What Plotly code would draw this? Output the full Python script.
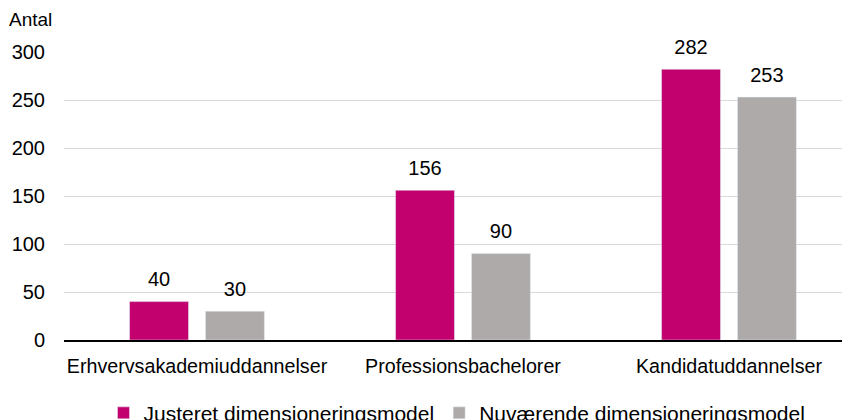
import plotly.graph_objects as go

categories = ["Erhvervsakademiuddannelser", "Professionsbachelorer", "Kandidatuddannelser"]
justeret = [40, 156, 282]
nuvaerende = [30, 90, 253]
series_names = ["Justeret dimensioneringsmodel", "Nuværende dimensioneringsmodel"]
colors = ["#C2006E", "#AEAAA9"]
y_ticks = [0, 50, 100, 150, 200, 250, 300]

FONT = "Liberation Sans, Arial, sans-serif"

fig = go.Figure()
for name, vals, col, grp in [(series_names[0], justeret, colors[0], "a"),
                             (series_names[1], nuvaerende, colors[1], "b")]:
    fig.add_trace(go.Bar(x=categories, y=vals, name=name, marker_color=col,
                         offsetgroup=grp, hoverinfo="skip"))
    # value labels, placed via an invisible marker so they sit a bit above the bars
    fig.add_trace(go.Scatter(x=categories, y=vals, mode="markers+text", text=vals,
                             textposition="top center", offsetgroup=grp,
                             marker=dict(size=15, opacity=0), showlegend=False,
                             textfont=dict(size=20, color="#000000"), cliponaxis=False))

# page body has an 8px margin, so the figure is a bit smaller than the window
fig.update_layout(
    width=842, height=412,
    margin=dict(l=56, r=0, t=44, b=80, autoexpand=False),
    plot_bgcolor="white", paper_bgcolor="white",
    font=dict(family=FONT, color="#000000"),
    barmode="group", scattermode="group", bargap=0.429, bargroupgap=0.224,
    legend=dict(orientation="h", x=0.5, xanchor="center", y=-0.183, yanchor="top",
                font=dict(size=21), itemwidth=30, tracegroupgap=0),
    annotations=[dict(text="Antal", xref="paper", yref="paper", x=-0.0725, y=1.07,
                      xanchor="left", yanchor="bottom", showarrow=False,
                      font=dict(size=19))],
)
fig.update_xaxes(range=[-0.5, 2.455], showline=True, linecolor="#000000", linewidth=1.5,
                 tickfont=dict(size=19.7), ticks="", ticklabelstandoff=8)
fig.update_yaxes(range=[0, 300], tickvals=y_ticks, showgrid=True, gridcolor="#D9D9D9",
                 gridwidth=1.2, zeroline=False, tickfont=dict(size=20),
                 ticklabelstandoff=18)

fig.write_html("out.html")
